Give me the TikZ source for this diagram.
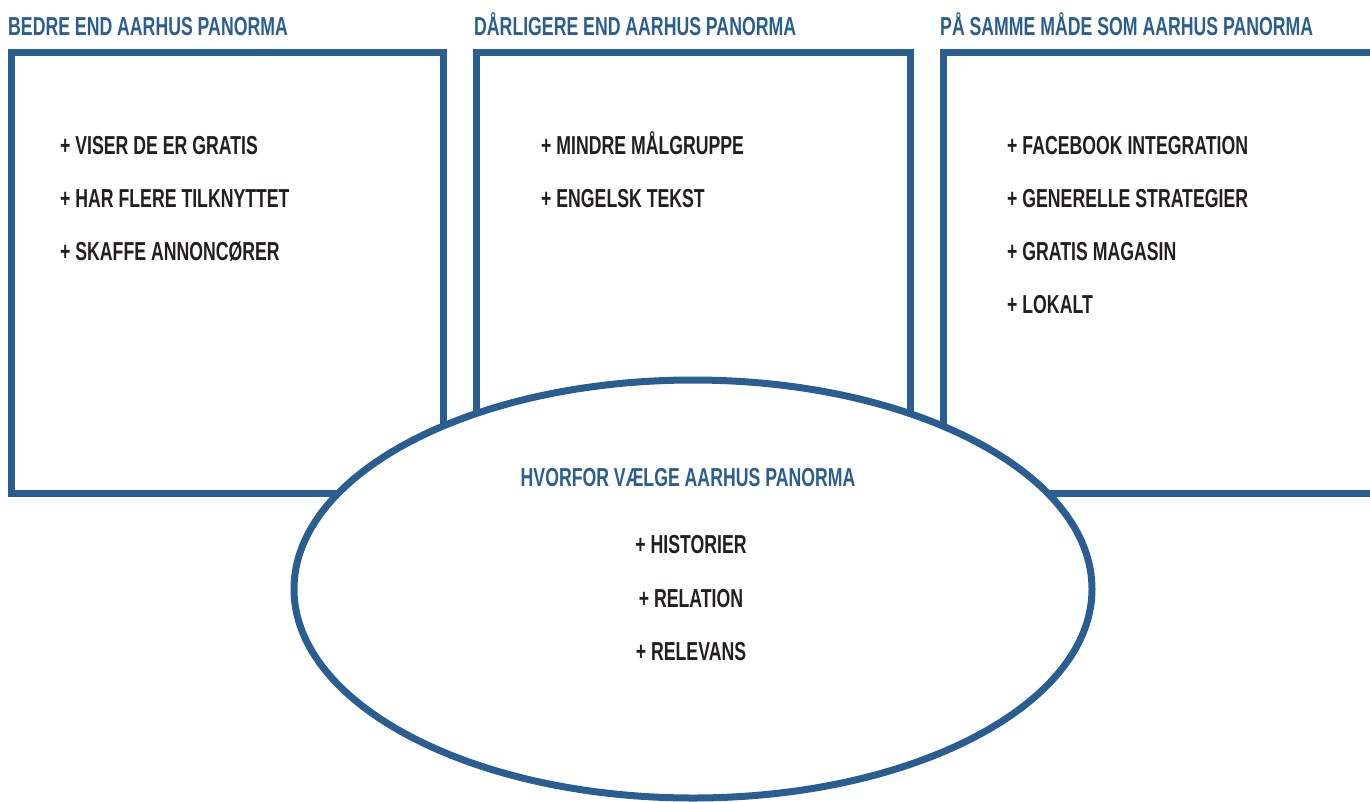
\documentclass[tikz,border=0pt]{standalone}
\usepackage{fontspec}
\setmainfont{Liberation Sans}[FakeStretch=0.68]
\usetikzlibrary{shapes.geometric}
\definecolor{panblue}{RGB}{42,94,145}
\definecolor{inkdark}{RGB}{35,31,32}

\begin{document}
\begin{tikzpicture}[
  x=1pt, y=-1pt,
  frame/.style={draw=panblue, line width=7pt, rectangle, inner sep=0pt},
  oval/.style={ellipse, draw=panblue, fill=white, line width=7pt, inner sep=0pt,
    minimum width=798pt, minimum height=418pt},
  head/.style={font=\fontsize{26}{30}\selectfont\bfseries, text=panblue,
    inner sep=0pt, anchor=base west},
  entry/.style={font=\fontsize{26}{30}\selectfont\bfseries, text=inkdark,
    inner sep=0pt, anchor=base west}
]
  \useasboundingbox (0,0) rectangle (1370,801);
  \clip (0,0) rectangle (1370,801);

  \node[frame, minimum width=431.5pt, minimum height=441pt] (better) at (227.25,272.5) {};
  \node[frame, minimum width=434pt, minimum height=441pt] (worse) at (693,272.5) {};
  \node[frame, minimum width=460pt, minimum height=441pt] (same) at (1173,272.5) {};

  \node[head] (betterH) at (8,35) {BEDRE END AARHUS PANORMA};
  \node[head] (worseH) at (474,35) {DÅRLIGERE END AARHUS PANORMA};
  \node[head] (sameH) at (940,35) {PÅ SAMME MÅDE SOM AARHUS PANORMA};

  \node[entry] (b1) at (60,154) {+ VISER DE ER GRATIS};
  \node[entry] (b2) at (60,207) {+ HAR FLERE TILKNYTTET};
  \node[entry] (b3) at (60,260) {+ SKAFFE ANNONCØRER};

  \node[entry] (w1) at (541,154) {+ MINDRE MÅLGRUPPE};
  \node[entry] (w2) at (541,207) {+ ENGELSK TEKST};

  \node[entry] (s1) at (1007,154) {+ FACEBOOK INTEGRATION};
  \node[entry] (s2) at (1007,207) {+ GENERELLE STRATEGIER};
  \node[entry] (s3) at (1007,260) {+ GRATIS MAGASIN};
  \node[entry] (s4) at (1007,313) {+ LOKALT};

  \node[oval] (why) at (693,589) {};
  \node[head, anchor=base] (whyH) at (688,486) {HVORFOR VÆLGE AARHUS PANORMA};
  \node[entry, anchor=base] (y1) at (691,553) {+ HISTORIER};
  \node[entry, anchor=base] (y2) at (691,607) {+ RELATION};
  \node[entry, anchor=base] (y3) at (691,660) {+ RELEVANS};
\end{tikzpicture}
\end{document}
